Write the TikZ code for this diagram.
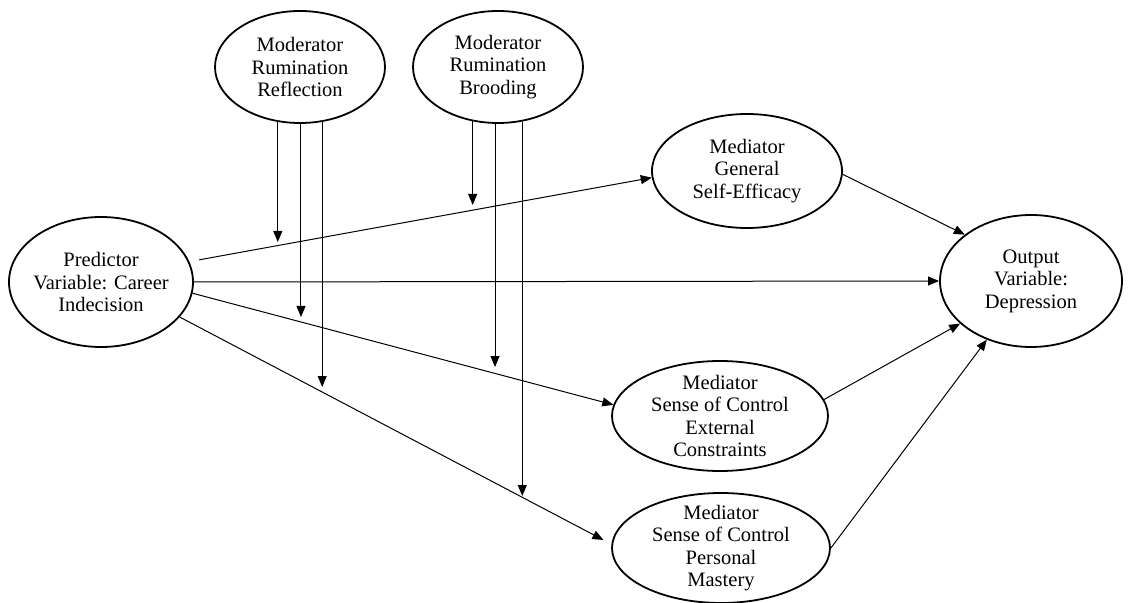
\documentclass[tikz,border=0pt]{standalone}
\usepackage{fontspec}
\setmainfont{Liberation Serif}
\usetikzlibrary{arrows.meta,shapes.geometric}
\tikzset{
  ellbox/.style={draw, ellipse, line width=1.8bp, inner sep=0pt},
  lbl/.style={align=center, inner sep=0pt, font=\fontsize{20.5bp}{22.5bp}\selectfont},
  conn/.style={line width=1bp, -{Triangle[length=11bp,width=9bp]}},
}
\newcommand\ellnode[5]{%
  \node[ellbox, minimum width=#3, minimum height=#4] (#1) at (#2) {};
  \node[lbl] (#1-t) at (#1.center) {#5};}
\begin{document}
\begin{tikzpicture}[x=1bp,y=-1bp]
\useasboundingbox (0,0) rectangle (1129,603);
\ellnode{pred}{101,282}{184bp}{130bp}{Predictor\\Variable: Career\\Indecision}
\ellnode{refl}{300,67}{170bp}{112bp}{Moderator\\Rumination\\Reflection}
\ellnode{brood}{498,67}{170bp}{112bp}{Moderator\\Rumination\\Brooding}
\ellnode{se}{747,171}{190bp}{114bp}{Mediator\\General\\Self-Efficacy}
\ellnode{out}{1031,281}{182bp}{132bp}{Output\\Variable:\\Depression}
\ellnode{ext}{720,416}{216bp}{110bp}{Mediator\\Sense of Control\\External\\Constraints}
\ellnode{pers}{721,548}{218bp}{110bp}{Mediator\\Sense of Control\\Personal\\Mastery}

\draw[conn, shorten <=10bp] (pred.13) -- (se.184);
\draw[conn] (pred.east) -- (out.west);
\draw[conn] (pred.-7) -- (ext.174);
\draw[conn, shorten >=9bp] (pred.-24) -- (pers.178);
\draw[conn] (se.-2) -- (out.145);
\draw[conn] (ext.9) -- (out.211);
\draw[conn] (pers.east) -- (out.233);

\coordinate (m1) at (278,242);
\coordinate (m2) at (301,317);
\coordinate (m3) at (322,387);
\coordinate (m4) at (473,205);
\coordinate (m5) at (495,367);
\coordinate (m6) at (522,496);
\draw[conn] (refl.248) -- (refl.248 |- m1);
\draw[conn] (refl.271) -- (refl.271 |- m2);
\draw[conn] (refl.292) -- (refl.292 |- m3);
\draw[conn] (brood.245) -- (brood.245 |- m4);
\draw[conn] (brood.267) -- (brood.267 |- m5);
\draw[conn] (brood.294) -- (brood.294 |- m6);
\end{tikzpicture}
\end{document}
